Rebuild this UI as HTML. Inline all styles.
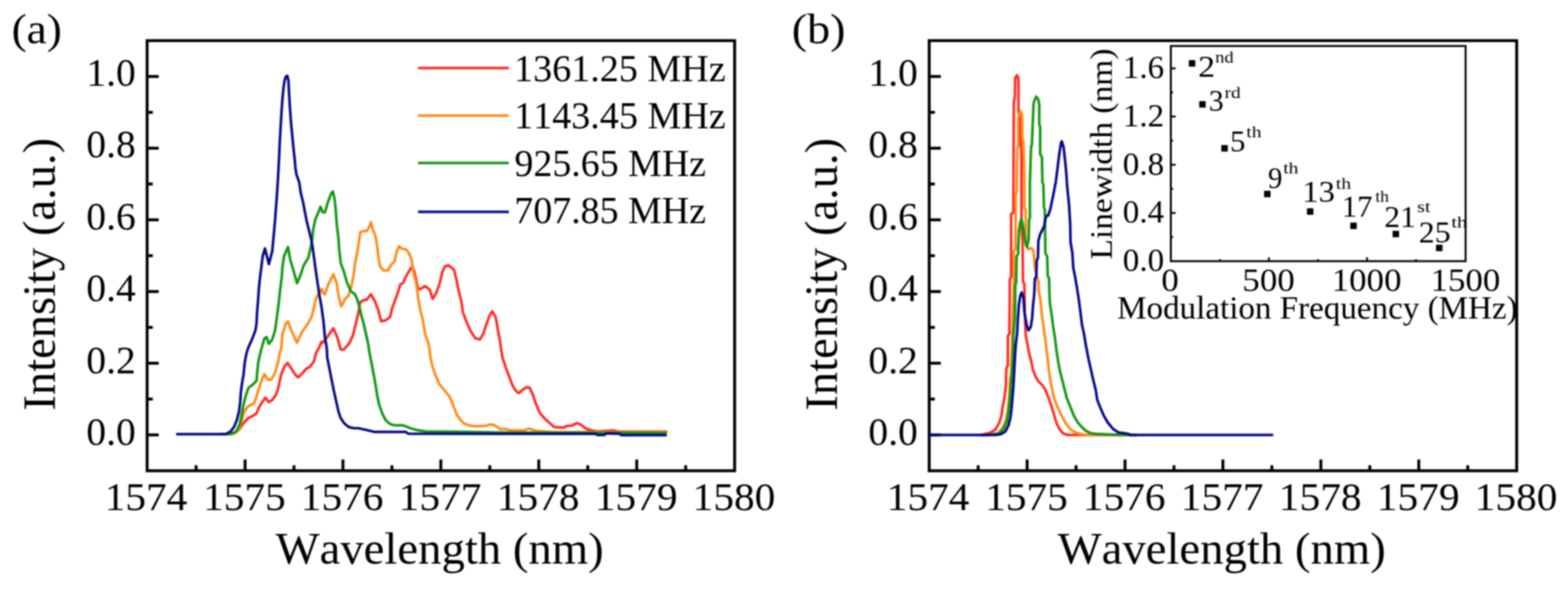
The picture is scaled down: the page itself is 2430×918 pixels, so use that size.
<!DOCTYPE html><html><head><meta charset="utf-8"><title>Spectra</title><style>html,body{margin:0;padding:0;background:#fff;}svg{display:block;filter:blur(0.8px);}text{font-family:'Liberation Serif', 'DejaVu Serif', serif;fill:#000;font-kerning:none;}</style></head><body>
<svg xmlns="http://www.w3.org/2000/svg" width="2430" height="918" viewBox="0 0 2430 918">
<rect width="2430" height="918" fill="#fff"/>
<rect x="228.0" y="63.0" width="910.5" height="667.0" fill="none" stroke="#000" stroke-width="4.5"/>
<line x1="228.0" y1="674.4" x2="246.0" y2="674.4" stroke="#000" stroke-width="4.5"/>
<line x1="228.0" y1="618.8" x2="236.8" y2="618.8" stroke="#000" stroke-width="4.5"/>
<line x1="228.0" y1="563.2" x2="246.0" y2="563.2" stroke="#000" stroke-width="4.5"/>
<line x1="228.0" y1="507.7" x2="236.8" y2="507.7" stroke="#000" stroke-width="4.5"/>
<line x1="228.0" y1="452.1" x2="246.0" y2="452.1" stroke="#000" stroke-width="4.5"/>
<line x1="228.0" y1="396.5" x2="236.8" y2="396.5" stroke="#000" stroke-width="4.5"/>
<line x1="228.0" y1="340.9" x2="246.0" y2="340.9" stroke="#000" stroke-width="4.5"/>
<line x1="228.0" y1="285.3" x2="236.8" y2="285.3" stroke="#000" stroke-width="4.5"/>
<line x1="228.0" y1="229.8" x2="246.0" y2="229.8" stroke="#000" stroke-width="4.5"/>
<line x1="228.0" y1="174.2" x2="236.8" y2="174.2" stroke="#000" stroke-width="4.5"/>
<line x1="228.0" y1="118.6" x2="246.0" y2="118.6" stroke="#000" stroke-width="4.5"/>
<line x1="303.9" y1="730.0" x2="303.9" y2="721.5" stroke="#000" stroke-width="4.5"/>
<line x1="379.8" y1="730.0" x2="379.8" y2="712.5" stroke="#000" stroke-width="4.5"/>
<line x1="455.6" y1="730.0" x2="455.6" y2="721.5" stroke="#000" stroke-width="4.5"/>
<line x1="531.5" y1="730.0" x2="531.5" y2="712.5" stroke="#000" stroke-width="4.5"/>
<line x1="607.4" y1="730.0" x2="607.4" y2="721.5" stroke="#000" stroke-width="4.5"/>
<line x1="683.2" y1="730.0" x2="683.2" y2="712.5" stroke="#000" stroke-width="4.5"/>
<line x1="759.1" y1="730.0" x2="759.1" y2="721.5" stroke="#000" stroke-width="4.5"/>
<line x1="835.0" y1="730.0" x2="835.0" y2="712.5" stroke="#000" stroke-width="4.5"/>
<line x1="910.9" y1="730.0" x2="910.9" y2="721.5" stroke="#000" stroke-width="4.5"/>
<line x1="986.8" y1="730.0" x2="986.8" y2="712.5" stroke="#000" stroke-width="4.5"/>
<line x1="1062.6" y1="730.0" x2="1062.6" y2="721.5" stroke="#000" stroke-width="4.5"/>
<text x="133.81" y="690.11" font-size="60.22" text-anchor="start" textLength="76.62" lengthAdjust="spacingAndGlyphs">0.0</text>
<text x="133.81" y="578.60" font-size="60.22" text-anchor="start" textLength="76.62" lengthAdjust="spacingAndGlyphs">0.2</text>
<text x="133.81" y="467.09" font-size="60.22" text-anchor="start" textLength="76.62" lengthAdjust="spacingAndGlyphs">0.4</text>
<text x="133.81" y="355.57" font-size="60.22" text-anchor="start" textLength="76.62" lengthAdjust="spacingAndGlyphs">0.6</text>
<text x="133.81" y="244.06" font-size="60.22" text-anchor="start" textLength="76.62" lengthAdjust="spacingAndGlyphs">0.8</text>
<text x="133.81" y="132.55" font-size="60.22" text-anchor="start" textLength="76.62" lengthAdjust="spacingAndGlyphs">1.0</text>
<text x="162.16" y="791.00" font-size="61.35" text-anchor="start" textLength="128.24" lengthAdjust="spacingAndGlyphs">1574</text>
<text x="314.67" y="791.00" font-size="61.35" text-anchor="start" textLength="128.24" lengthAdjust="spacingAndGlyphs">1575</text>
<text x="466.12" y="791.00" font-size="61.35" text-anchor="start" textLength="128.24" lengthAdjust="spacingAndGlyphs">1576</text>
<text x="617.84" y="791.00" font-size="61.35" text-anchor="start" textLength="128.24" lengthAdjust="spacingAndGlyphs">1577</text>
<text x="769.88" y="791.00" font-size="61.35" text-anchor="start" textLength="128.24" lengthAdjust="spacingAndGlyphs">1578</text>
<text x="921.73" y="791.00" font-size="61.35" text-anchor="start" textLength="128.24" lengthAdjust="spacingAndGlyphs">1579</text>
<text x="1073.38" y="791.00" font-size="61.35" text-anchor="start" textLength="128.24" lengthAdjust="spacingAndGlyphs">1580</text>
<text x="426.93" y="874.45" font-size="69.56" text-anchor="start" textLength="508.65" lengthAdjust="spacingAndGlyphs">Wavelength (nm)</text>
<text transform="translate(85.40,0) rotate(-90)" x="-636.71" y="0" font-size="71.80" textLength="422.88" lengthAdjust="spacingAndGlyphs">Intensity (a.u.)</text>
<rect x="1440.0" y="63.0" width="910.5" height="667.0" fill="none" stroke="#000" stroke-width="4.5"/>
<line x1="1440.0" y1="674.4" x2="1458.0" y2="674.4" stroke="#000" stroke-width="4.5"/>
<line x1="1440.0" y1="618.8" x2="1448.8" y2="618.8" stroke="#000" stroke-width="4.5"/>
<line x1="1440.0" y1="563.2" x2="1458.0" y2="563.2" stroke="#000" stroke-width="4.5"/>
<line x1="1440.0" y1="507.7" x2="1448.8" y2="507.7" stroke="#000" stroke-width="4.5"/>
<line x1="1440.0" y1="452.1" x2="1458.0" y2="452.1" stroke="#000" stroke-width="4.5"/>
<line x1="1440.0" y1="396.5" x2="1448.8" y2="396.5" stroke="#000" stroke-width="4.5"/>
<line x1="1440.0" y1="340.9" x2="1458.0" y2="340.9" stroke="#000" stroke-width="4.5"/>
<line x1="1440.0" y1="285.3" x2="1448.8" y2="285.3" stroke="#000" stroke-width="4.5"/>
<line x1="1440.0" y1="229.8" x2="1458.0" y2="229.8" stroke="#000" stroke-width="4.5"/>
<line x1="1440.0" y1="174.2" x2="1448.8" y2="174.2" stroke="#000" stroke-width="4.5"/>
<line x1="1440.0" y1="118.6" x2="1458.0" y2="118.6" stroke="#000" stroke-width="4.5"/>
<line x1="1515.9" y1="730.0" x2="1515.9" y2="721.5" stroke="#000" stroke-width="4.5"/>
<line x1="1591.8" y1="730.0" x2="1591.8" y2="712.5" stroke="#000" stroke-width="4.5"/>
<line x1="1667.6" y1="730.0" x2="1667.6" y2="721.5" stroke="#000" stroke-width="4.5"/>
<line x1="1743.5" y1="730.0" x2="1743.5" y2="712.5" stroke="#000" stroke-width="4.5"/>
<line x1="1819.4" y1="730.0" x2="1819.4" y2="721.5" stroke="#000" stroke-width="4.5"/>
<line x1="1895.2" y1="730.0" x2="1895.2" y2="712.5" stroke="#000" stroke-width="4.5"/>
<line x1="1971.1" y1="730.0" x2="1971.1" y2="721.5" stroke="#000" stroke-width="4.5"/>
<line x1="2047.0" y1="730.0" x2="2047.0" y2="712.5" stroke="#000" stroke-width="4.5"/>
<line x1="2122.9" y1="730.0" x2="2122.9" y2="721.5" stroke="#000" stroke-width="4.5"/>
<line x1="2198.8" y1="730.0" x2="2198.8" y2="712.5" stroke="#000" stroke-width="4.5"/>
<line x1="2274.6" y1="730.0" x2="2274.6" y2="721.5" stroke="#000" stroke-width="4.5"/>
<text x="1345.81" y="690.11" font-size="60.22" text-anchor="start" textLength="76.62" lengthAdjust="spacingAndGlyphs">0.0</text>
<text x="1345.81" y="578.60" font-size="60.22" text-anchor="start" textLength="76.62" lengthAdjust="spacingAndGlyphs">0.2</text>
<text x="1345.81" y="467.09" font-size="60.22" text-anchor="start" textLength="76.62" lengthAdjust="spacingAndGlyphs">0.4</text>
<text x="1345.81" y="355.57" font-size="60.22" text-anchor="start" textLength="76.62" lengthAdjust="spacingAndGlyphs">0.6</text>
<text x="1345.81" y="244.06" font-size="60.22" text-anchor="start" textLength="76.62" lengthAdjust="spacingAndGlyphs">0.8</text>
<text x="1345.81" y="132.55" font-size="60.22" text-anchor="start" textLength="76.62" lengthAdjust="spacingAndGlyphs">1.0</text>
<text x="1374.16" y="791.00" font-size="61.35" text-anchor="start" textLength="128.24" lengthAdjust="spacingAndGlyphs">1574</text>
<text x="1526.67" y="791.00" font-size="61.35" text-anchor="start" textLength="128.24" lengthAdjust="spacingAndGlyphs">1575</text>
<text x="1678.12" y="791.00" font-size="61.35" text-anchor="start" textLength="128.24" lengthAdjust="spacingAndGlyphs">1576</text>
<text x="1829.84" y="791.00" font-size="61.35" text-anchor="start" textLength="128.24" lengthAdjust="spacingAndGlyphs">1577</text>
<text x="1981.88" y="791.00" font-size="61.35" text-anchor="start" textLength="128.24" lengthAdjust="spacingAndGlyphs">1578</text>
<text x="2133.73" y="791.00" font-size="61.35" text-anchor="start" textLength="128.24" lengthAdjust="spacingAndGlyphs">1579</text>
<text x="2285.38" y="791.00" font-size="61.35" text-anchor="start" textLength="128.24" lengthAdjust="spacingAndGlyphs">1580</text>
<text x="1638.93" y="874.45" font-size="69.56" text-anchor="start" textLength="508.65" lengthAdjust="spacingAndGlyphs">Wavelength (nm)</text>
<text transform="translate(1297.40,0) rotate(-90)" x="-636.71" y="0" font-size="71.80" textLength="422.88" lengthAdjust="spacingAndGlyphs">Intensity (a.u.)</text>
<text x="17.90" y="67.19" font-size="64.85" text-anchor="start" textLength="78.19" lengthAdjust="spacingAndGlyphs">(a)</text>
<text x="1226.96" y="67.19" font-size="64.85" text-anchor="start" textLength="83.39" lengthAdjust="spacingAndGlyphs">(b)</text>
<line x1="648" y1="105.5" x2="788.5" y2="105.5" stroke="#ff2a22" stroke-width="4.0"/>
<text x="796.61" y="125.60" font-size="59.68" text-anchor="start" textLength="328.14" lengthAdjust="spacingAndGlyphs">1361.25 MHz</text>
<line x1="648" y1="179.2" x2="788.5" y2="179.2" stroke="#ff8a18" stroke-width="4.0"/>
<text x="796.81" y="199.10" font-size="59.68" text-anchor="start" textLength="327.93" lengthAdjust="spacingAndGlyphs">1143.45 MHz</text>
<line x1="648" y1="252.8" x2="788.5" y2="252.8" stroke="#119611" stroke-width="4.0"/>
<text x="797.31" y="272.60" font-size="59.68" text-anchor="start" textLength="296.83" lengthAdjust="spacingAndGlyphs">925.65 MHz</text>
<line x1="648" y1="328.5" x2="788.5" y2="328.5" stroke="#060688" stroke-width="4.0"/>
<text x="797.03" y="346.10" font-size="59.68" text-anchor="start" textLength="297.11" lengthAdjust="spacingAndGlyphs">707.85 MHz</text>
<polyline points="348.0,673.2 358.0,673.0 364.4,671.6 371.4,665.5 378.3,655.0 385.3,648.0 392.3,644.6 397.5,641.0 401.0,632.4 406.2,623.7 411.5,616.7 416.7,623.7 421.9,620.2 427.1,613.2 430.6,604.5 433.2,592.3 435.9,580.0 441.1,567.9 445.4,562.7 451.5,571.4 456.8,580.0 462.0,585.3 469.0,578.3 475.0,571.4 479.4,569.6 486.4,560.9 489.9,547.0 495.1,538.0 498.0,530.0 500.0,531.6 507.0,522.9 516.6,509.0 522.7,522.9 527.9,542.0 533.1,541.7 541.8,531.6 547.1,519.4 552.3,498.5 555.8,482.8 558.0,470.0 560.1,467.1 566.1,464.7 568.0,465.0 574.9,456.2 581.0,467.0 586.0,480.0 590.6,498.0 597.6,496.8 604.6,491.5 608.0,477.0 611.5,468.0 616.8,453.2 620.3,441.0 624.6,439.0 629.0,429.0 634.2,420.1 637.2,415.0 641.1,417.6 644.6,431.5 648.1,449.0 653.3,447.2 658.5,443.7 662.0,446.0 666.1,449.7 670.5,463.5 675.7,455.0 680.9,441.0 686.1,420.1 690.0,413.0 694.9,411.4 703.6,418.3 707.1,432.3 710.5,449.7 714.9,467.1 717.5,484.6 722.7,498.5 729.7,514.2 736.7,524.7 743.7,526.4 748.9,517.7 754.1,502.0 759.3,488.1 762.8,482.8 768.1,491.5 771.5,510.7 775.0,529.9 776.4,540.0 778.5,553.9 783.7,569.6 789.0,583.6 794.2,597.5 799.4,606.2 803.8,609.7 809.9,604.5 816.1,600.4 820.7,601.2 825.2,610.3 829.8,624.0 835.9,639.3 843.5,648.4 858.8,662.2 874.0,662.9 878.6,660.6 886.2,659.9 893.9,656.1 900.0,658.4 907.6,664.5 916.7,667.5 925.9,669.0 938.1,668.3 950.3,667.5 959.4,669.2 1034.2,669.2" fill="none" stroke="#ff2a22" stroke-width="4.0" stroke-linejoin="round"/>
<polyline points="346.0,673.2 356.0,673.2 362.7,672.5 371.4,665.5 374.9,651.5 378.3,639.3 383.6,630.6 394.0,625.4 397.5,615.0 400.1,606.2 404.5,592.3 409.7,580.0 415.0,588.8 420.2,588.8 425.4,580.0 428.9,569.6 431.5,559.2 433.2,548.7 435.9,540.0 437.6,519.4 442.8,502.0 446.3,498.5 451.5,512.5 460.3,531.6 467.2,516.0 475.9,503.7 482.9,491.5 486.4,477.6 489.9,461.9 495.1,453.2 498.6,448.0 500.0,453.2 503.5,456.7 508.7,441.0 516.6,425.3 521.8,439.3 525.3,461.9 528.8,475.0 534.9,463.7 540.1,458.4 544.4,444.5 547.5,429.0 550.5,407.5 553.9,389.7 556.6,372.3 558.3,360.1 562.7,358.3 568.8,358.3 573.1,349.6 574.9,344.4 577.5,354.9 581.8,365.3 584.4,381.0 586.5,399.0 589.0,413.0 594.0,419.3 601.0,419.3 606.2,410.6 611.5,405.4 614.9,389.7 618.4,381.9 623.7,386.2 628.9,386.2 634.1,393.2 637.6,401.9 639.3,412.4 641.1,424.6 644.6,437.0 646.8,452.0 649.0,468.0 651.0,480.0 655.1,495.0 658.6,515.9 660.0,522.0 663.5,530.0 665.2,540.0 667.0,553.9 670.5,569.6 675.7,583.6 680.9,595.8 689.6,606.2 696.6,614.9 701.8,627.1 707.1,641.1 712.3,649.8 719.3,656.8 729.7,660.3 738.4,661.1 754.1,660.3 757.6,658.5 764.6,658.5 771.5,662.9 775.0,665.5 785.5,665.5 789.0,667.2 813.4,667.2 816.9,665.1 820.0,664.6 832.9,668.3 855.7,669.8 1033.4,670.0" fill="none" stroke="#ff8a18" stroke-width="4.0" stroke-linejoin="round"/>
<polyline points="342.0,673.2 350.0,673.2 357.4,673.3 366.1,669.0 371.4,658.5 374.9,641.0 377.5,627.0 381.0,613.2 385.3,601.0 392.3,595.8 397.5,590.5 398.4,580.0 400.1,562.7 402.7,550.5 405.4,540.0 409.7,524.7 413.2,522.9 416.7,533.4 421.9,526.4 426.3,512.5 428.9,493.3 431.5,474.1 434.1,449.7 436.7,428.8 437.6,414.9 440.2,397.4 444.6,387.0 446.3,383.0 449.8,402.7 455.0,420.1 460.3,439.3 465.5,427.1 470.7,411.4 477.7,400.0 480.5,388.0 483.7,372.9 485.4,355.5 488.9,339.8 494.1,327.6 496.7,320.6 500.2,329.3 503.7,329.3 508.1,313.7 513.3,299.7 515.9,297.0 518.5,308.4 520.3,325.9 522.0,348.5 524.5,369.4 525.5,385.0 526.5,394.0 528.0,407.9 533.1,421.8 537.5,437.5 543.6,451.5 550.5,456.7 554.0,465.4 557.5,477.6 560.1,489.8 563.6,502.0 567.1,517.7 570.6,533.4 572.3,545.0 573.2,550.5 576.7,567.9 579.3,581.8 581.9,595.8 584.5,613.2 588.0,628.9 592.4,641.1 597.6,651.5 604.6,657.6 611.5,659.4 623.7,659.4 629.0,661.1 637.7,664.6 648.1,667.2 660.0,669.0 715.0,669.5 780.0,670.8 1033.4,671.2" fill="none" stroke="#119611" stroke-width="4.0" stroke-linejoin="round"/>
<polyline points="273.0,673.2 340.0,673.2 350.5,672.8 357.4,669.0 362.7,662.0 367.0,651.5 370.5,637.6 372.2,623.7 373.1,609.7 374.9,595.8 377.5,580.0 379.2,562.7 381.8,548.7 384.4,540.0 390.5,526.4 395.8,512.5 397.5,502.0 398.4,484.6 400.1,463.7 401.0,449.7 402.7,432.3 404.5,418.3 407.1,397.4 410.6,385.2 416.7,409.6 421.8,390.0 424.2,365.0 426.0,345.0 427.5,325.0 429.0,305.0 430.3,285.0 431.3,268.0 432.5,245.0 433.5,222.0 435.0,195.0 436.5,170.0 438.0,150.0 439.5,135.0 441.0,125.0 442.5,120.0 444.2,117.5 445.5,118.0 447.0,125.0 448.0,145.0 449.5,170.0 451.0,190.0 453.0,211.0 454.8,230.0 456.5,245.0 457.8,260.0 459.3,270.1 463.6,282.3 466.2,299.7 469.7,313.7 472.3,327.6 475.0,341.5 478.4,355.5 481.9,369.4 484.5,383.4 486.4,397.4 489.9,423.6 492.5,441.0 495.1,458.4 498.5,477.6 501.5,500.0 503.5,522.9 506.5,540.0 507.0,553.9 510.5,571.4 513.9,588.8 517.4,606.2 520.9,621.9 524.4,637.6 527.9,648.1 533.1,655.9 540.1,662.0 547.1,663.7 555.8,664.1 566.2,666.4 580.2,669.8 629.0,669.8 632.5,672.5 922.8,672.8 925.9,674.4 936.6,674.4 939.6,672.0 961.0,672.8 962.5,674.7 1033.4,674.7" fill="none" stroke="#060688" stroke-width="4.0" stroke-linejoin="round"/>
<polyline points="1518.0,674.6 1522.0,674.4 1527.0,672.6 1534.1,671.2 1542.6,666.2 1548.2,656.3 1551.8,645.0 1553.9,630.8 1556.7,616.6 1558.9,598.2 1559.2,580.0 1559.9,570.4 1562.0,566.1 1562.0,520.8 1564.2,518.0 1564.9,450.0 1564.9,433.4 1567.0,429.2 1567.0,332.0 1570.5,329.6 1570.8,227.1 1571.3,157.4 1572.7,152.3 1573.3,120.9 1575.9,116.5 1577.9,119.6 1578.4,131.4 1578.4,174.9 1580.5,180.0 1581.7,218.4 1583.0,240.0 1583.0,336.0 1583.3,354.1 1584.7,372.5 1585.4,436.2 1587.5,440.5 1588.2,485.4 1589.0,506.7 1589.7,520.8 1592.5,535.0 1595.3,549.2 1598.2,560.5 1600.6,572.7 1604.9,584.1 1609.1,591.2 1616.2,598.2 1620.4,605.3 1624.7,616.6 1628.9,628.0 1633.2,642.1 1637.4,656.3 1641.7,664.8 1647.3,671.9 1654.4,674.6 1762.0,674.6" fill="none" stroke="#ff2a22" stroke-width="4.0" stroke-linejoin="round"/>
<polyline points="1522.0,674.6 1530.0,674.6 1538.3,674.0 1546.8,671.9 1553.9,663.4 1558.9,652.0 1561.7,637.9 1563.8,616.6 1565.2,588.3 1567.0,580.0 1568.4,535.0 1570.5,460.0 1571.2,437.6 1571.2,389.5 1573.9,386.7 1573.9,302.0 1575.9,297.0 1575.9,280.0 1576.6,229.8 1577.9,227.0 1577.9,183.6 1579.2,178.4 1581.1,171.6 1583.9,178.1 1584.4,216.3 1586.0,217.3 1586.6,240.0 1587.6,280.0 1587.6,323.0 1589.6,325.7 1589.6,371.4 1591.0,380.0 1593.5,387.0 1598.0,384.5 1601.3,388.4 1602.7,400.0 1603.8,415.0 1606.7,429.2 1609.5,437.6 1609.5,450.0 1612.3,464.2 1614.4,485.4 1617.3,506.7 1620.1,527.9 1622.2,546.3 1624.4,563.3 1625.4,574.2 1627.5,588.3 1630.4,602.5 1633.2,616.6 1638.7,630.7 1644.4,643.0 1651.0,655.4 1659.3,666.1 1667.5,671.0 1674.0,672.7 1682.3,674.3 1698.8,674.6 1762.0,674.6" fill="none" stroke="#ff8a18" stroke-width="4.0" stroke-linejoin="round"/>
<polyline points="1522.0,674.6 1530.0,674.6 1548.2,671.9 1555.3,664.8 1560.3,653.5 1563.1,637.9 1565.2,616.6 1567.3,588.3 1568.4,575.0 1569.8,549.2 1570.5,520.8 1572.7,492.5 1573.4,460.0 1573.4,443.3 1574.8,437.6 1575.5,398.0 1577.8,393.6 1579.1,358.4 1581.0,345.0 1583.0,339.0 1585.7,353.0 1589.6,378.0 1591.5,383.2 1594.2,371.4 1594.8,341.4 1596.1,337.5 1596.1,284.0 1597.5,240.0 1598.0,227.1 1599.1,225.0 1600.8,183.6 1601.8,159.6 1603.5,155.0 1606.0,149.7 1609.3,154.9 1610.6,162.7 1610.6,192.8 1612.0,196.7 1612.0,239.0 1614.7,243.6 1615.5,283.2 1617.0,286.3 1617.8,321.3 1619.3,325.9 1619.6,358.0 1620.1,392.3 1622.9,398.0 1623.7,427.7 1625.8,432.0 1626.5,460.0 1627.2,471.2 1630.0,489.7 1632.2,506.7 1635.0,525.1 1637.1,542.1 1639.9,560.5 1642.4,574.2 1645.9,588.3 1649.5,602.5 1653.0,616.6 1659.3,632.3 1664.2,644.7 1670.0,654.6 1675.7,661.2 1682.3,667.7 1690.5,671.9 1698.8,672.7 1731.7,674.3 1748.1,674.6 1762.0,674.6" fill="none" stroke="#119611" stroke-width="4.0" stroke-linejoin="round"/>
<polyline points="1440.0,674.6 1542.6,674.6 1551.1,673.3 1558.1,669.0 1563.1,659.1 1565.9,647.8 1567.5,635.0 1569.0,618.0 1570.3,602.0 1571.3,585.0 1572.7,557.6 1574.1,535.0 1576.2,518.0 1577.6,492.5 1579.0,472.7 1581.2,458.5 1583.3,453.5 1586.1,461.3 1587.5,484.0 1591.1,503.8 1593.9,512.3 1597.5,506.7 1599.6,492.5 1601.0,472.7 1602.4,460.0 1603.1,450.4 1603.8,432.0 1606.0,429.2 1606.7,403.7 1608.5,400.0 1609.2,374.0 1611.8,363.6 1615.1,357.0 1618.3,350.5 1619.3,343.6 1621.6,334.5 1624.5,334.2 1627.8,323.8 1632.0,304.0 1636.3,281.3 1639.2,258.6 1642.0,236.0 1644.3,221.5 1645.5,219.2 1648.3,228.3 1649.8,242.0 1651.3,255.8 1652.9,274.0 1653.6,286.3 1655.1,301.5 1656.7,316.8 1657.6,332.0 1658.5,347.0 1659.1,375.3 1661.9,392.3 1663.3,415.0 1666.1,429.2 1669.0,446.1 1671.8,464.2 1674.6,485.4 1676.8,503.8 1679.7,516.6 1682.8,535.2 1685.9,551.7 1690.0,570.4 1694.2,589.0 1698.3,605.6 1700.4,620.0 1705.3,632.3 1710.3,643.9 1716.9,655.4 1725.1,665.3 1733.3,670.6 1748.1,672.7 1752.0,674.4 1770.0,674.6 1973.2,674.6" fill="none" stroke="#060688" stroke-width="4.0" stroke-linejoin="round"/>
<rect x="1814.5" y="71.3" width="456.8000000000002" height="333.7" fill="#fff"/>
<line x1="1814.5" y1="367.6" x2="1818.0" y2="367.6" stroke="#000" stroke-width="2.8"/>
<line x1="1814.5" y1="330.2" x2="1822.0" y2="330.2" stroke="#000" stroke-width="2.8"/>
<line x1="1814.5" y1="292.9" x2="1818.0" y2="292.9" stroke="#000" stroke-width="2.8"/>
<line x1="1814.5" y1="255.5" x2="1822.0" y2="255.5" stroke="#000" stroke-width="2.8"/>
<line x1="1814.5" y1="218.1" x2="1818.0" y2="218.1" stroke="#000" stroke-width="2.8"/>
<line x1="1814.5" y1="180.7" x2="1822.0" y2="180.7" stroke="#000" stroke-width="2.8"/>
<line x1="1814.5" y1="143.3" x2="1818.0" y2="143.3" stroke="#000" stroke-width="2.8"/>
<line x1="1814.5" y1="106.0" x2="1822.0" y2="106.0" stroke="#000" stroke-width="2.8"/>
<line x1="1890.5" y1="405.0" x2="1890.5" y2="402.0" stroke="#000" stroke-width="2.8"/>
<line x1="1966.5" y1="405.0" x2="1966.5" y2="399.0" stroke="#000" stroke-width="2.8"/>
<line x1="2042.5" y1="405.0" x2="2042.5" y2="402.0" stroke="#000" stroke-width="2.8"/>
<line x1="2118.5" y1="405.0" x2="2118.5" y2="399.0" stroke="#000" stroke-width="2.8"/>
<line x1="2194.5" y1="405.0" x2="2194.5" y2="402.0" stroke="#000" stroke-width="2.8"/>
<text x="1740.05" y="420.18" font-size="50.65" text-anchor="start" textLength="64.00" lengthAdjust="spacingAndGlyphs">0.0</text>
<text x="1740.05" y="345.49" font-size="50.65" text-anchor="start" textLength="64.00" lengthAdjust="spacingAndGlyphs">0.4</text>
<text x="1740.05" y="270.79" font-size="50.65" text-anchor="start" textLength="64.00" lengthAdjust="spacingAndGlyphs">0.8</text>
<text x="1740.05" y="196.10" font-size="50.65" text-anchor="start" textLength="64.00" lengthAdjust="spacingAndGlyphs">1.2</text>
<text x="1740.05" y="121.41" font-size="50.65" text-anchor="start" textLength="64.00" lengthAdjust="spacingAndGlyphs">1.6</text>
<text x="1799.67" y="451.11" font-size="49.94" text-anchor="start" textLength="27.05" lengthAdjust="spacingAndGlyphs">0</text>
<text x="1925.38" y="451.11" font-size="49.94" text-anchor="start" textLength="81.16" lengthAdjust="spacingAndGlyphs">500</text>
<text x="2063.74" y="451.11" font-size="49.94" text-anchor="start" textLength="108.22" lengthAdjust="spacingAndGlyphs">1000</text>
<text x="2216.94" y="451.11" font-size="49.94" text-anchor="start" textLength="108.22" lengthAdjust="spacingAndGlyphs">1500</text>
<text x="1731.22" y="494.00" font-size="50.55" text-anchor="start" textLength="620.73" lengthAdjust="spacingAndGlyphs">Modulation Frequency (MHz)</text>
<text transform="translate(1723.00,0) rotate(-90)" x="-402.50" y="0" font-size="49.00" textLength="327.28" lengthAdjust="spacingAndGlyphs">Linewidth (nm)</text>
<rect x="1842.4" y="93.3" width="10" height="10" fill="#000"/>
<rect x="1858.5" y="156.8" width="10" height="10" fill="#000"/>
<rect x="1892.7" y="225.0" width="10" height="10" fill="#000"/>
<rect x="1959.0" y="295.8" width="10" height="10" fill="#000"/>
<rect x="2025.4" y="323.0" width="10" height="10" fill="#000"/>
<rect x="2092.6" y="345.2" width="10" height="10" fill="#000"/>
<rect x="2158.2" y="357.9" width="10" height="10" fill="#000"/>
<rect x="2225.5" y="379.5" width="10" height="10" fill="#000"/>
<text x="1856.89" y="118.70" font-size="45.50" text-anchor="start" textLength="26.32" lengthAdjust="spacingAndGlyphs">2</text>
<text x="1883.24" y="97.10" font-size="24.40" text-anchor="start" textLength="28.61" lengthAdjust="spacingAndGlyphs">nd</text>
<text x="1873.28" y="172.10" font-size="45.50" text-anchor="start" textLength="23.24" lengthAdjust="spacingAndGlyphs">3</text>
<text x="1897.70" y="152.30" font-size="24.40" text-anchor="start" textLength="24.97" lengthAdjust="spacingAndGlyphs">rd</text>
<text x="1906.23" y="234.50" font-size="45.50" text-anchor="start" textLength="23.83" lengthAdjust="spacingAndGlyphs">5</text>
<text x="1931.51" y="213.40" font-size="24.40" text-anchor="start" textLength="23.49" lengthAdjust="spacingAndGlyphs">th</text>
<text x="1964.96" y="291.50" font-size="45.50" text-anchor="start" textLength="22.38" lengthAdjust="spacingAndGlyphs">9</text>
<text x="1988.70" y="268.80" font-size="24.40" text-anchor="start" textLength="23.60" lengthAdjust="spacingAndGlyphs">th</text>
<text x="2018.24" y="313.10" font-size="45.50" text-anchor="start" textLength="50.74" lengthAdjust="spacingAndGlyphs">13</text>
<text x="2070.31" y="292.70" font-size="24.40" text-anchor="start" textLength="23.49" lengthAdjust="spacingAndGlyphs">th</text>
<text x="2079.63" y="335.90" font-size="45.50" text-anchor="start" textLength="47.44" lengthAdjust="spacingAndGlyphs">17</text>
<text x="2131.44" y="313.00" font-size="24.40" text-anchor="start" textLength="20.92" lengthAdjust="spacingAndGlyphs">th</text>
<text x="2145.35" y="351.50" font-size="45.50" text-anchor="start" textLength="48.88" lengthAdjust="spacingAndGlyphs">21</text>
<text x="2195.90" y="329.20" font-size="24.40" text-anchor="start" textLength="21.08" lengthAdjust="spacingAndGlyphs">st</text>
<text x="2198.83" y="376.30" font-size="45.50" text-anchor="start" textLength="49.29" lengthAdjust="spacingAndGlyphs">25</text>
<text x="2249.19" y="353.40" font-size="24.40" text-anchor="start" textLength="24.73" lengthAdjust="spacingAndGlyphs">th</text>
<rect x="1814.5" y="71.3" width="456.8000000000002" height="333.7" fill="none" stroke="#000" stroke-width="3.0"/>
</svg></body></html>
